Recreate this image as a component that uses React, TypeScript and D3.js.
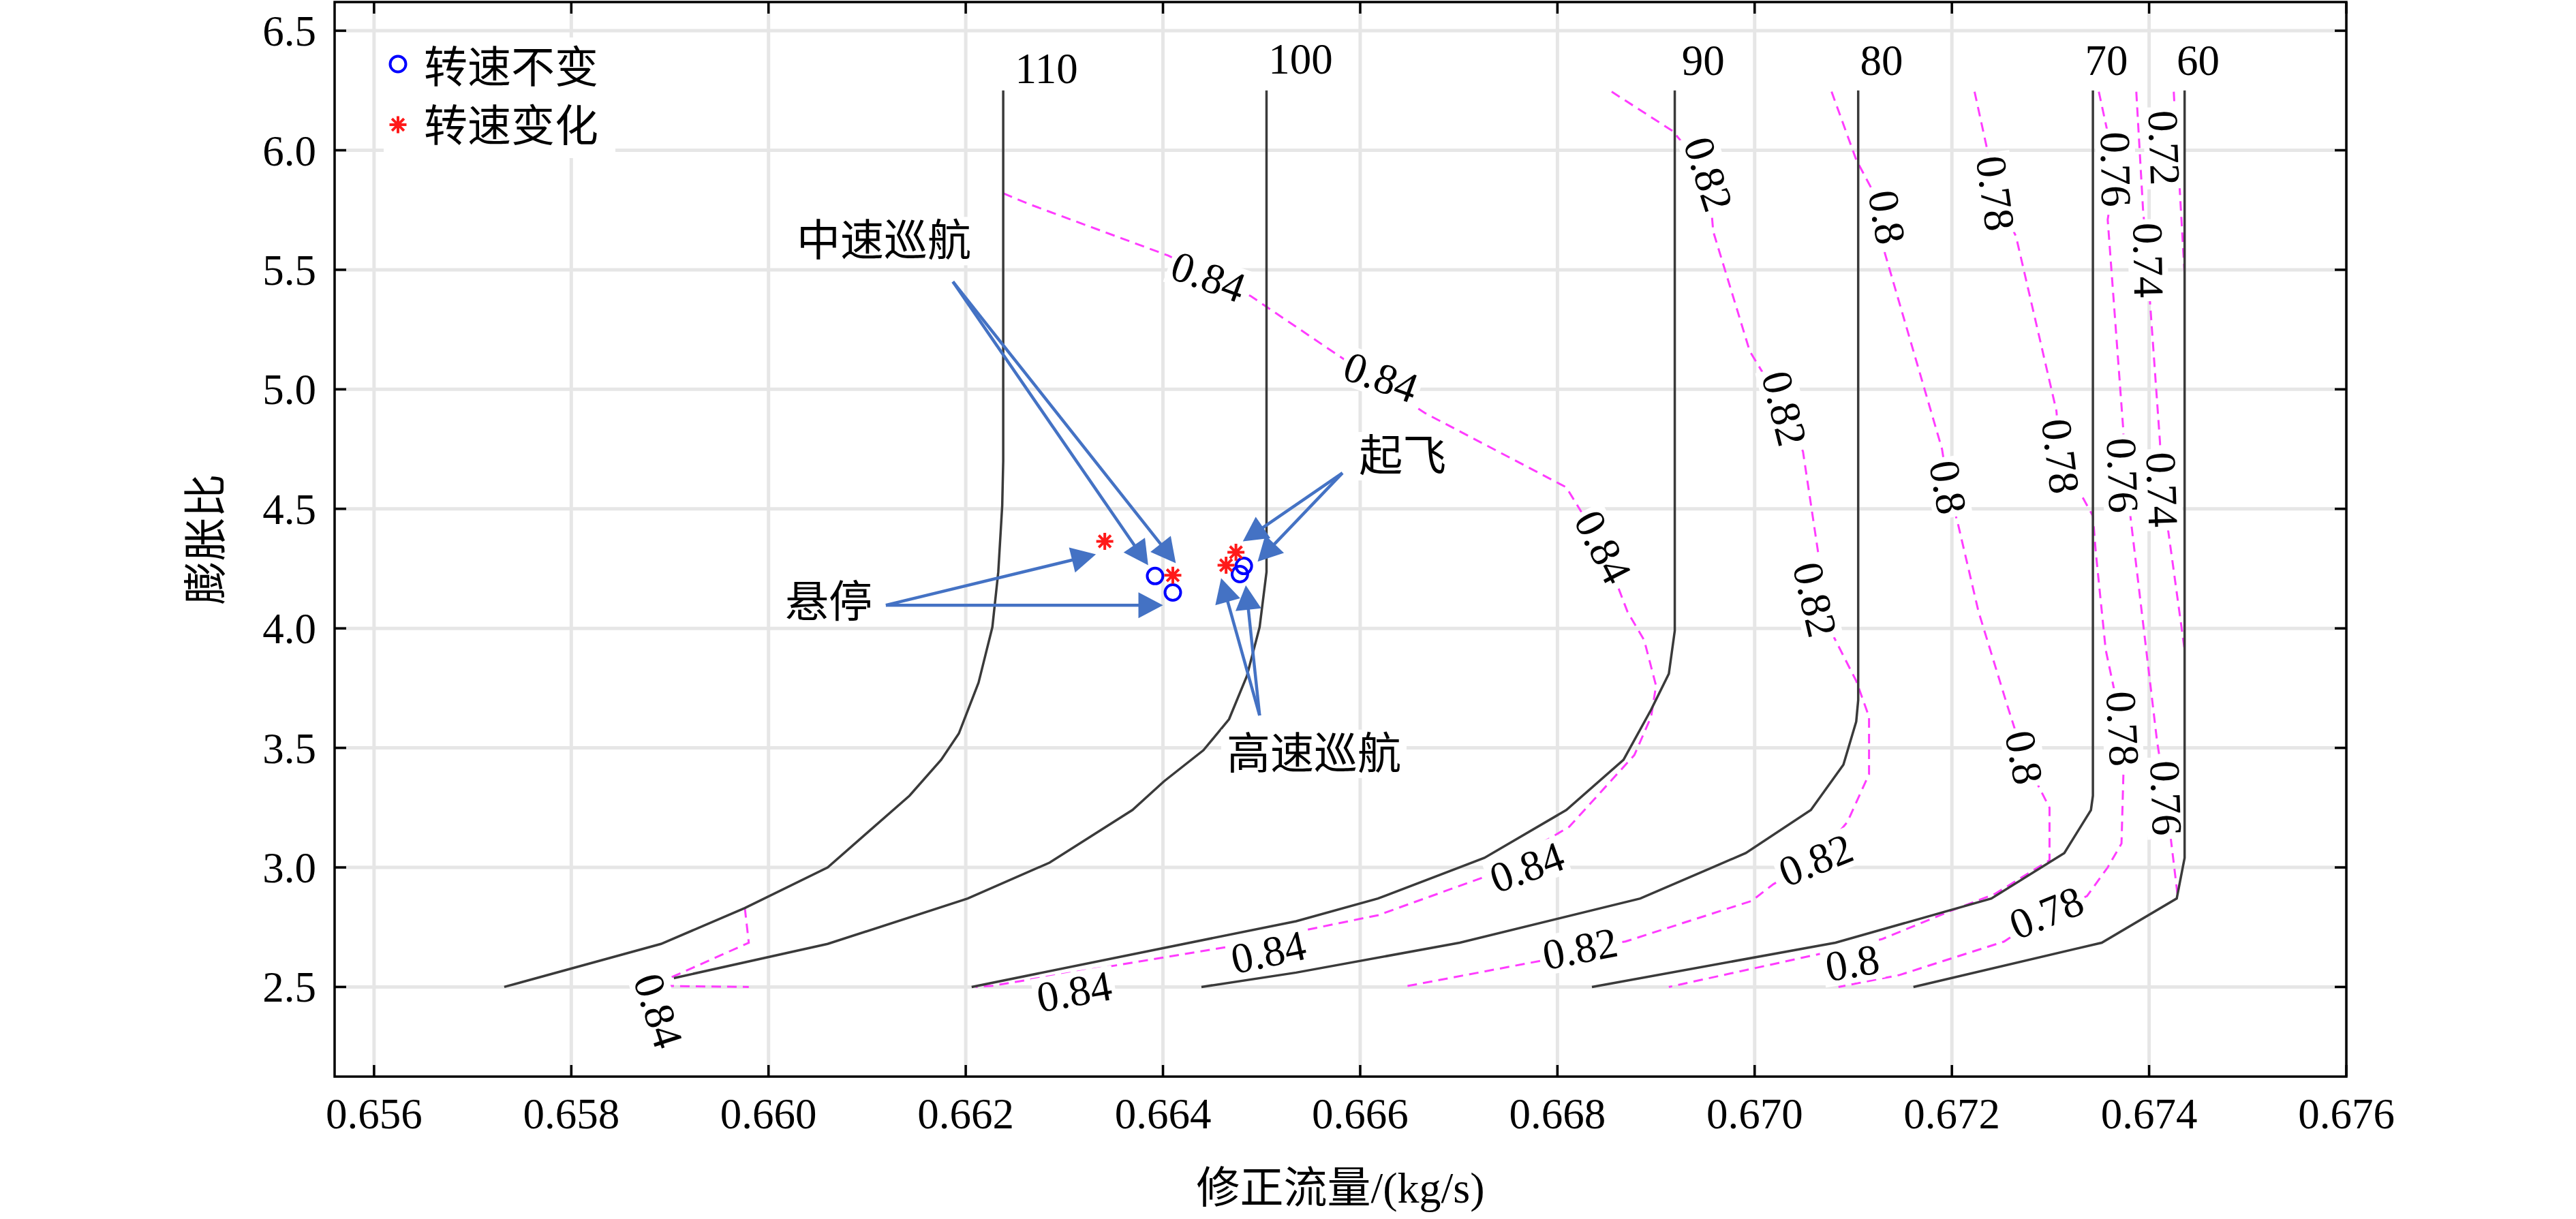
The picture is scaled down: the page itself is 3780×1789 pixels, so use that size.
import React, { useEffect, useRef } from 'react';
import * as d3 from 'd3';

type Pt = [number, number];

const W = 3780;
const H = 1789;
const serif = '"Liberation Serif", "Times New Roman", "Noto Sans CJK SC", serif';

const xTicks = [0.656, 0.658, 0.66, 0.662, 0.664, 0.666, 0.668, 0.67, 0.672, 0.674, 0.676];
const yTicks = [2.5, 3.0, 3.5, 4.0, 4.5, 5.0, 5.5, 6.0, 6.5];

// speed lines (转速)
const speedNames = ['110', '100', '90', '80', '70', '60'];
const speed110: Pt[] = [[0.65732, 2.5], [0.65891, 2.68], [0.65976, 2.83], [0.6606, 3.0], [0.66143, 3.3], [0.66175, 3.45], [0.66193, 3.56], [0.66213, 3.773], [0.66227, 4.005], [0.66233, 4.236], [0.66237, 4.514], [0.66238, 4.7], [0.66238, 6.25]];
const speed100: Pt[] = [[0.65904, 2.537], [0.6606, 2.68], [0.66202, 2.87], [0.66285, 3.02], [0.66369, 3.24], [0.66401, 3.36], [0.66441, 3.49], [0.66467, 3.62], [0.66485, 3.8], [0.66498, 4.005], [0.66505, 4.236], [0.66505, 6.25]];
const speed90: Pt[] = [[0.66206, 2.5], [0.66535, 2.775], [0.66618, 2.87], [0.66726, 3.04], [0.66809, 3.24], [0.66867, 3.45], [0.66895, 3.66], [0.66913, 3.81], [0.66919, 3.99], [0.66919, 6.25]];
const speed80: Pt[] = [[0.66439, 2.5], [0.66535, 2.56], [0.66701, 2.685], [0.66884, 2.87], [0.66991, 3.06], [0.67057, 3.24], [0.6709, 3.43], [0.67103, 3.61], [0.67105, 3.7], [0.67105, 6.25]];
const speed70: Pt[] = [[0.66835, 2.5], [0.67082, 2.685], [0.6724, 2.87], [0.67314, 3.06], [0.67341, 3.24], [0.67343, 3.3], [0.67343, 6.25]];
const speed60: Pt[] = [[0.67161, 2.5], [0.67352, 2.685], [0.67428, 2.87], [0.67436, 3.04], [0.67436, 6.25]];
const speedLines = [speed110, speed100, speed90, speed80, speed70, speed60];
const speedLabelX = [0.6625, 0.66507, 0.66926, 0.67107, 0.67335, 0.67428];
const speedLabelY = [6.28, 6.32, 6.315, 6.315, 6.315, 6.315];

// efficiency contours (效率)
const eff084: Pt[] = [[0.66238, 5.82], [0.66264, 5.775], [0.66405, 5.56], [0.66489, 5.39], [0.66582, 5.13], [0.66666, 4.9], [0.66809, 4.59], [0.66846, 4.34], [0.66871, 4.07], [0.66888, 3.95], [0.669, 3.76], [0.66895, 3.63], [0.66878, 3.47], [0.66812, 3.17], [0.66726, 2.96], [0.66618, 2.8], [0.66535, 2.73], [0.66469, 2.67], [0.66352, 2.59], [0.66227, 2.505], [0.6621, 2.5]];
const eff084b: Pt[] = [[0.65976, 2.83], [0.6598, 2.685], [0.65904, 2.545], [0.6588, 2.505], [0.6598, 2.5]];
const eff082: Pt[] = [[0.66855, 6.245], [0.66917, 6.08], [0.66953, 5.9], [0.66958, 5.66], [0.66995, 5.16], [0.6703, 4.92], [0.67049, 4.74], [0.67065, 4.3], [0.67061, 4.12], [0.67103, 3.78], [0.67116, 3.63], [0.67116, 3.39], [0.67094, 3.19], [0.67062, 3.03], [0.67019, 2.93], [0.66997, 2.86], [0.66869, 2.69], [0.66823, 2.66], [0.66784, 2.61], [0.66643, 2.5]];
const eff080: Pt[] = [[0.67078, 6.245], [0.67103, 5.96], [0.67134, 5.72], [0.67132, 5.57], [0.6719, 4.75], [0.67196, 4.59], [0.67206, 4.44], [0.67227, 4.07], [0.67256, 3.68], [0.67273, 3.46], [0.67299, 3.25], [0.67299, 3.03], [0.67244, 2.89], [0.672, 2.82], [0.67129, 2.7], [0.67068, 2.64], [0.66913, 2.5]];
const eff078: Pt[] = [[0.67223, 6.245], [0.67236, 6.0], [0.67244, 5.82], [0.67265, 5.64], [0.67306, 4.91], [0.6731, 4.72], [0.67335, 4.53], [0.67343, 4.47], [0.67346, 4.315], [0.67356, 3.91], [0.67373, 3.58], [0.67374, 3.4], [0.67372, 3.1], [0.67358, 3.0], [0.67337, 2.88], [0.67296, 2.81], [0.67253, 2.69], [0.67147, 2.55], [0.67085, 2.5]];
const eff076: Pt[] = [[0.67349, 6.245], [0.67366, 5.92], [0.67358, 5.71], [0.67374, 4.82], [0.67373, 4.64], [0.67381, 4.47], [0.67408, 3.53], [0.67417, 3.29], [0.67422, 3.12], [0.67429, 2.88]];
const eff074: Pt[] = [[0.67387, 6.245], [0.67394, 5.74], [0.67399, 5.54], [0.67401, 5.36], [0.67411, 4.78], [0.67413, 4.58], [0.6742, 4.39], [0.67436, 3.91]];
const eff072: Pt[] = [[0.67425, 6.245], [0.67428, 6.0], [0.67431, 5.84], [0.67436, 5.48]];
const effLines = [eff084, eff084b, eff082, eff080, eff078, eff076, eff074, eff072];

// contour labels: text, x, y, angle
const effLabels: [string, number, number, number][] = [
    ['0.84', 0.66446, 5.47, 20],
    ['0.84', 0.66621, 5.05, 20],
    ['0.84', 0.66846, 4.34, 63],
    ['0.84', 0.66769, 3.0, -20],
    ['0.84', 0.66507, 2.645, -12],
    ['0.84', 0.6631, 2.48, -10],
    ['0.84', 0.65888, 2.4, 72],
    ['0.82', 0.66953, 5.9, 72],
    ['0.82', 0.6703, 4.92, 76],
    ['0.82', 0.67061, 4.12, 77],
    ['0.82', 0.67062, 3.03, -22],
    ['0.82', 0.66823, 2.66, -11],
    ['0.8', 0.67134, 5.72, 80],
    ['0.8', 0.67196, 4.59, 80],
    ['0.8', 0.67273, 3.46, 79],
    ['0.8', 0.67099, 2.6, -10],
    ['0.78', 0.67244, 5.82, 82],
    ['0.78', 0.6731, 4.72, 83],
    ['0.78', 0.67373, 3.58, 87],
    ['0.78', 0.67296, 2.81, -22],
    ['0.76', 0.67366, 5.92, 89],
    ['0.76', 0.67373, 4.64, 88],
    ['0.76', 0.67417, 3.29, 88],
    ['0.74', 0.67399, 5.54, 89],
    ['0.74', 0.67413, 4.58, 88],
    ['0.72', 0.67415, 6.01, 88],
];

// operating points
const steadyPts: Pt[] = [[0.66392, 4.219], [0.6641, 4.15], [0.66482, 4.261], [0.66478, 4.227]];
const varyPts: Pt[] = [[0.66341, 4.364], [0.6641, 4.222], [0.66474, 4.318], [0.66464, 4.264]];

// annotations: text, text x, text y, tail, arrow tips
const notes: [string, number, number, Pt, Pt[]][] = [
    ['中速巡航', 0.66117, 5.62, [0.66187, 5.45], [[0.66385, 4.264], [0.66413, 4.273]]],
    ['悬停', 0.66061, 4.11, [0.66119, 4.097], [[0.66332, 4.31], [0.664, 4.097]]],
    ['起飞', 0.66643, 4.72, [0.66582, 4.65], [[0.66481, 4.364], [0.66496, 4.279]]],
    ['高速巡航', 0.66553, 3.475, [0.66498, 3.636], [[0.66459, 4.21], [0.66484, 4.18]]],
];

const legendNames = ['转速不变', '转速变化'];

export default function App() {
    const svgRef = useRef<SVGSVGElement>(null);

    useEffect(() => {
        document.body.style.margin = '0';
        if (!svgRef.current) return;
        const svg = d3.select(svgRef.current);
        svg.selectAll('*').remove();

        const x = d3.scaleLinear().domain([0.6556, 0.676]).range([491, 3443]);
        const y = d3.scaleLinear().domain([2.125, 6.62]).range([1580, 3]);
        const [left, right] = x.range();
        const [bottom, top] = y.range();

        svg.append('rect').attr('width', W).attr('height', H).attr('fill', '#fff');

        // grid
        const grid = svg.append('g').attr('stroke', '#e6e6e6').attr('stroke-width', 5);
        grid.selectAll('.gx').data(xTicks).join('line').attr('class', 'gx')
            .attr('x1', d => x(d)).attr('x2', d => x(d)).attr('y1', top).attr('y2', bottom);
        grid.selectAll('.gy').data(yTicks).join('line').attr('class', 'gy')
            .attr('x1', left).attr('x2', right).attr('y1', d => y(d)).attr('y2', d => y(d));

        const line = d3.line<Pt>().x(d => x(d[0])).y(d => y(d[1]));

        // contours
        svg.append('g').selectAll('path').data(effLines).join('path')
            .attr('d', d => line(d))
            .attr('fill', 'none')
            .attr('stroke', '#ff3cff')
            .attr('stroke-width', 3)
            .attr('stroke-dasharray', '14 9');

        const boxedText = (parent: any, text: string, px: number, py: number, angle: number, size: number, padX: number, padY: number) => {
            const g = parent.append('g').attr('transform', `translate(${px},${py}) rotate(${angle})`);
            const t = g.append('text')
                .attr('text-anchor', 'middle')
                .attr('dominant-baseline', 'central')
                .attr('font-family', serif)
                .attr('font-size', size)
                .attr('fill', '#000')
                .text(text);
            const b = (t.node() as SVGTextElement).getBBox();
            g.insert('rect', 'text')
                .attr('x', b.x - padX)
                .attr('y', b.y + padY)
                .attr('width', b.width + 2 * padX)
                .attr('height', b.height - 2 * padY)
                .attr('fill', '#fff');
        };

        const labels = svg.append('g');
        effLabels.forEach(([t, lx, ly, a]) => boxedText(labels, t, x(lx), y(ly), a, 63, 5, 6));

        // speed lines
        svg.append('g').selectAll('path').data(speedLines).join('path')
            .attr('d', d => line(d))
            .attr('fill', 'none')
            .attr('stroke', '#3a3a3a')
            .attr('stroke-width', 3.5);

        svg.append('g').selectAll('text').data(speedNames).join('text')
            .attr('x', (d, i) => x(speedLabelX[i]))
            .attr('y', (d, i) => y(speedLabelY[i]))
            .attr('font-family', serif)
            .attr('font-size', 63)
            .text(d => d);

        // annotations
        const ann = svg.append('g');
        const blue = '#4472c4';
        notes.forEach(([t, tx, ty, tail, tips]) => {
            boxedText(ann, t, x(tx), y(ty), 0, 64, 8, 0);
            tips.forEach(tip => {
                const x0 = x(tail[0]), y0 = y(tail[1]);
                const x1 = x(tip[0]), y1 = y(tip[1]);
                const len = Math.hypot(x1 - x0, y1 - y0);
                const ux = (x1 - x0) / len, uy = (y1 - y0) / len;
                const hl = 36, hw = 19;
                const bx = x1 - ux * hl, by = y1 - uy * hl;
                ann.append('line')
                    .attr('x1', x0).attr('y1', y0).attr('x2', bx + ux * 4).attr('y2', by + uy * 4)
                    .attr('stroke', blue).attr('stroke-width', 4.5);
                ann.append('path')
                    .attr('d', `M${x1},${y1}L${bx - uy * hw},${by + ux * hw}L${bx + uy * hw},${by - ux * hw}Z`)
                    .attr('fill', blue);
            });
        });

        // markers
        const star = (cx: number, cy: number, r: number) => {
            const d = r * Math.SQRT1_2;
            return `M${cx - r},${cy}L${cx + r},${cy}M${cx},${cy - r}L${cx},${cy + r}` +
                `M${cx - d},${cy - d}L${cx + d},${cy + d}M${cx - d},${cy + d}L${cx + d},${cy - d}`;
        };
        const marks = svg.append('g');
        marks.selectAll('circle').data(steadyPts).join('circle')
            .attr('cx', d => x(d[0])).attr('cy', d => y(d[1])).attr('r', 11.5)
            .attr('fill', 'none').attr('stroke', '#0000ff').attr('stroke-width', 4);
        marks.selectAll('path').data(varyPts).join('path')
            .attr('d', d => star(x(d[0]), y(d[1]), 12.5))
            .attr('stroke', '#ff1a1a').attr('stroke-width', 4).attr('fill', 'none');

        // legend
        const lg = svg.append('g');
        lg.append('rect').attr('x', 563).attr('y', 55).attr('width', 340).attr('height', 177).attr('fill', '#fff');
        lg.append('circle').attr('cx', 584).attr('cy', 94).attr('r', 11.5)
            .attr('fill', 'none').attr('stroke', '#0000ff').attr('stroke-width', 4);
        lg.append('path').attr('d', star(584, 183, 12.5))
            .attr('stroke', '#ff1a1a').attr('stroke-width', 4).attr('fill', 'none');
        lg.selectAll('text').data(legendNames).join('text')
            .attr('x', 622)
            .attr('y', (d, i) => (i === 0 ? 121 : 207))
            .attr('font-family', serif)
            .attr('font-size', 64)
            .text(d => d);

        // axes box and ticks
        const ax = svg.append('g').attr('stroke', '#000').attr('stroke-width', 3.5);
        ax.append('rect').attr('x', left).attr('y', top).attr('width', right - left).attr('height', bottom - top).attr('fill', 'none');
        const tl = 17;
        xTicks.forEach(t => {
            ax.append('line').attr('x1', x(t)).attr('x2', x(t)).attr('y1', bottom).attr('y2', bottom - tl);
            ax.append('line').attr('x1', x(t)).attr('x2', x(t)).attr('y1', top).attr('y2', top + tl);
        });
        yTicks.forEach(t => {
            ax.append('line').attr('x1', left).attr('x2', left + tl).attr('y1', y(t)).attr('y2', y(t));
            ax.append('line').attr('x1', right).attr('x2', right - tl).attr('y1', y(t)).attr('y2', y(t));
        });

        svg.append('g').selectAll('text').data(xTicks).join('text')
            .attr('x', d => x(d))
            .attr('y', 1656)
            .attr('text-anchor', 'middle')
            .attr('font-family', serif)
            .attr('font-size', 63)
            .text(d => d3.format('.3f')(d));
        svg.append('g').selectAll('text').data(yTicks).join('text')
            .attr('x', 464)
            .attr('y', d => y(d) + 22)
            .attr('text-anchor', 'end')
            .attr('font-family', serif)
            .attr('font-size', 63)
            .text(d => d3.format('.1f')(d));

        svg.append('text')
            .attr('x', (left + right) / 2)
            .attr('y', 1765)
            .attr('text-anchor', 'middle')
            .attr('font-family', serif)
            .attr('font-size', 64)
            .text('修正流量/(kg/s)');
        svg.append('text')
            .attr('transform', `translate(302,${(top + bottom) / 2}) rotate(-90)`)
            .attr('text-anchor', 'middle')
            .attr('dominant-baseline', 'central')
            .attr('font-family', serif)
            .attr('font-size', 64)
            .text('膨胀比');
    }, []);

    return <svg ref={svgRef} width={W} height={H} viewBox={`0 0 ${W} ${H}`} style={{ display: 'block' }} />;
}
